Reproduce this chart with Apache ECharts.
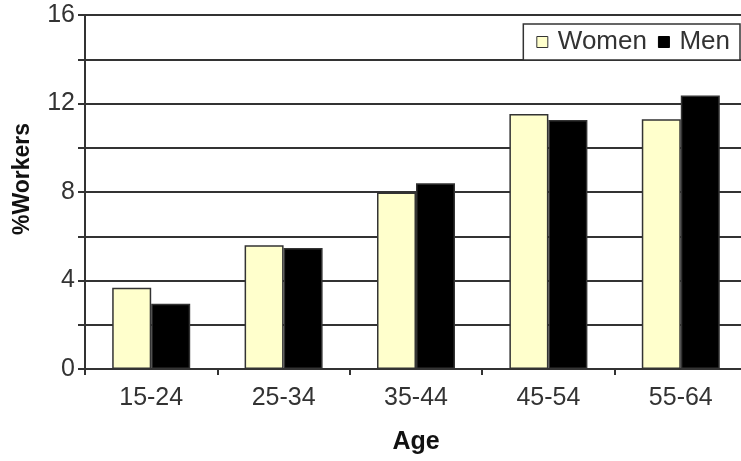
<!DOCTYPE html>
<html>
<head>
<meta charset="utf-8">
<script src="https://cdn.jsdelivr.net/npm/echarts@6/dist/echarts.min.js"></script>
<style>
  html, body { margin: 0; padding: 0; background: #fff; }
  #chart { width: 741px; height: 461px; }
</style>
</head>
<body>
<div id="chart"></div>
<script>
// Share of workers by age group, women vs men
const ageGroups = ['15-24', '25-34', '35-44', '45-54', '55-64'];
const women = [3.67, 5.59, 7.98, 11.53, 11.29];
const men = [2.95, 5.47, 8.40, 11.25, 12.36];
const yTicks = [0, 4, 8, 12, 16];

const chart = echarts.init(document.getElementById('chart'));
const font = 'Liberation Sans, Arial, sans-serif';

chart.setOption({
  animation: false,
  textStyle: { fontFamily: font },
  grid: { left: 85, top: 15, right: -6, bottom: 92, containLabel: false, outerBoundsMode: 'none' },
  legend: {
    right: 1,
    top: 24,
    orient: 'horizontal',
    icon: 'rect',
    itemWidth: 11,
    itemHeight: 11,
    itemGap: 11,
    padding: [5, 10, 5, 13],
    borderColor: '#333',
    borderWidth: 1.5,
    backgroundColor: '#fff',
    textStyle: { fontSize: 26, color: '#333', fontFamily: font, padding: [0, 0, 0, 5] },
    data: [
      { name: 'Women', itemStyle: { color: '#FFFFCC', borderColor: '#333', borderWidth: 1 } },
      { name: 'Men', itemStyle: { color: '#000', borderColor: '#000', borderWidth: 1 } }
    ]
  },
  xAxis: {
    type: 'category',
    data: ageGroups,
    name: 'Age',
    nameLocation: 'middle',
    nameGap: 61,
    nameTextStyle: { fontSize: 25, fontWeight: 'bold', color: '#111', fontFamily: font },
    axisLine: { lineStyle: { color: '#333', width: 2 } },
    axisTick: { show: true, length: 6, alignWithLabel: false, lineStyle: { color: '#333', width: 2 } },
    axisLabel: { fontSize: 25, color: '#333', margin: 17, fontFamily: font }
  },
  yAxis: {
    type: 'value',
    min: 0,
    max: 16,
    interval: 2,
    name: '%Workers',
    nameLocation: 'middle',
    nameGap: 51,
    nameRotate: 90,
    nameTextStyle: { fontSize: 23, fontWeight: 'bold', color: '#111', fontFamily: font, padding: [0, 0, 0, 26] },
    axisLine: { show: true, lineStyle: { color: '#333', width: 2 } },
    axisTick: { show: true, length: 7, lineStyle: { color: '#333', width: 2 } },
    axisLabel: {
      fontSize: 25, color: '#333', margin: 10, fontFamily: font,
      formatter: v => (yTicks.indexOf(v) >= 0 ? String(v) : '')
    },
    splitLine: { show: true, lineStyle: { color: '#333', width: 2 } }
  },
  series: [
    {
      name: 'Women',
      type: 'bar',
      data: women,
      barWidth: 39,
      barGap: '0%',
      itemStyle: { color: '#FFFFCC', borderColor: '#333', borderWidth: 1.5 }
    },
    {
      name: 'Men',
      type: 'bar',
      data: men,
      barWidth: 39,
      barGap: '0%',
      itemStyle: { color: '#000', borderColor: '#333', borderWidth: 1.5 }
    }
  ]
});
</script>
</body>
</html>
